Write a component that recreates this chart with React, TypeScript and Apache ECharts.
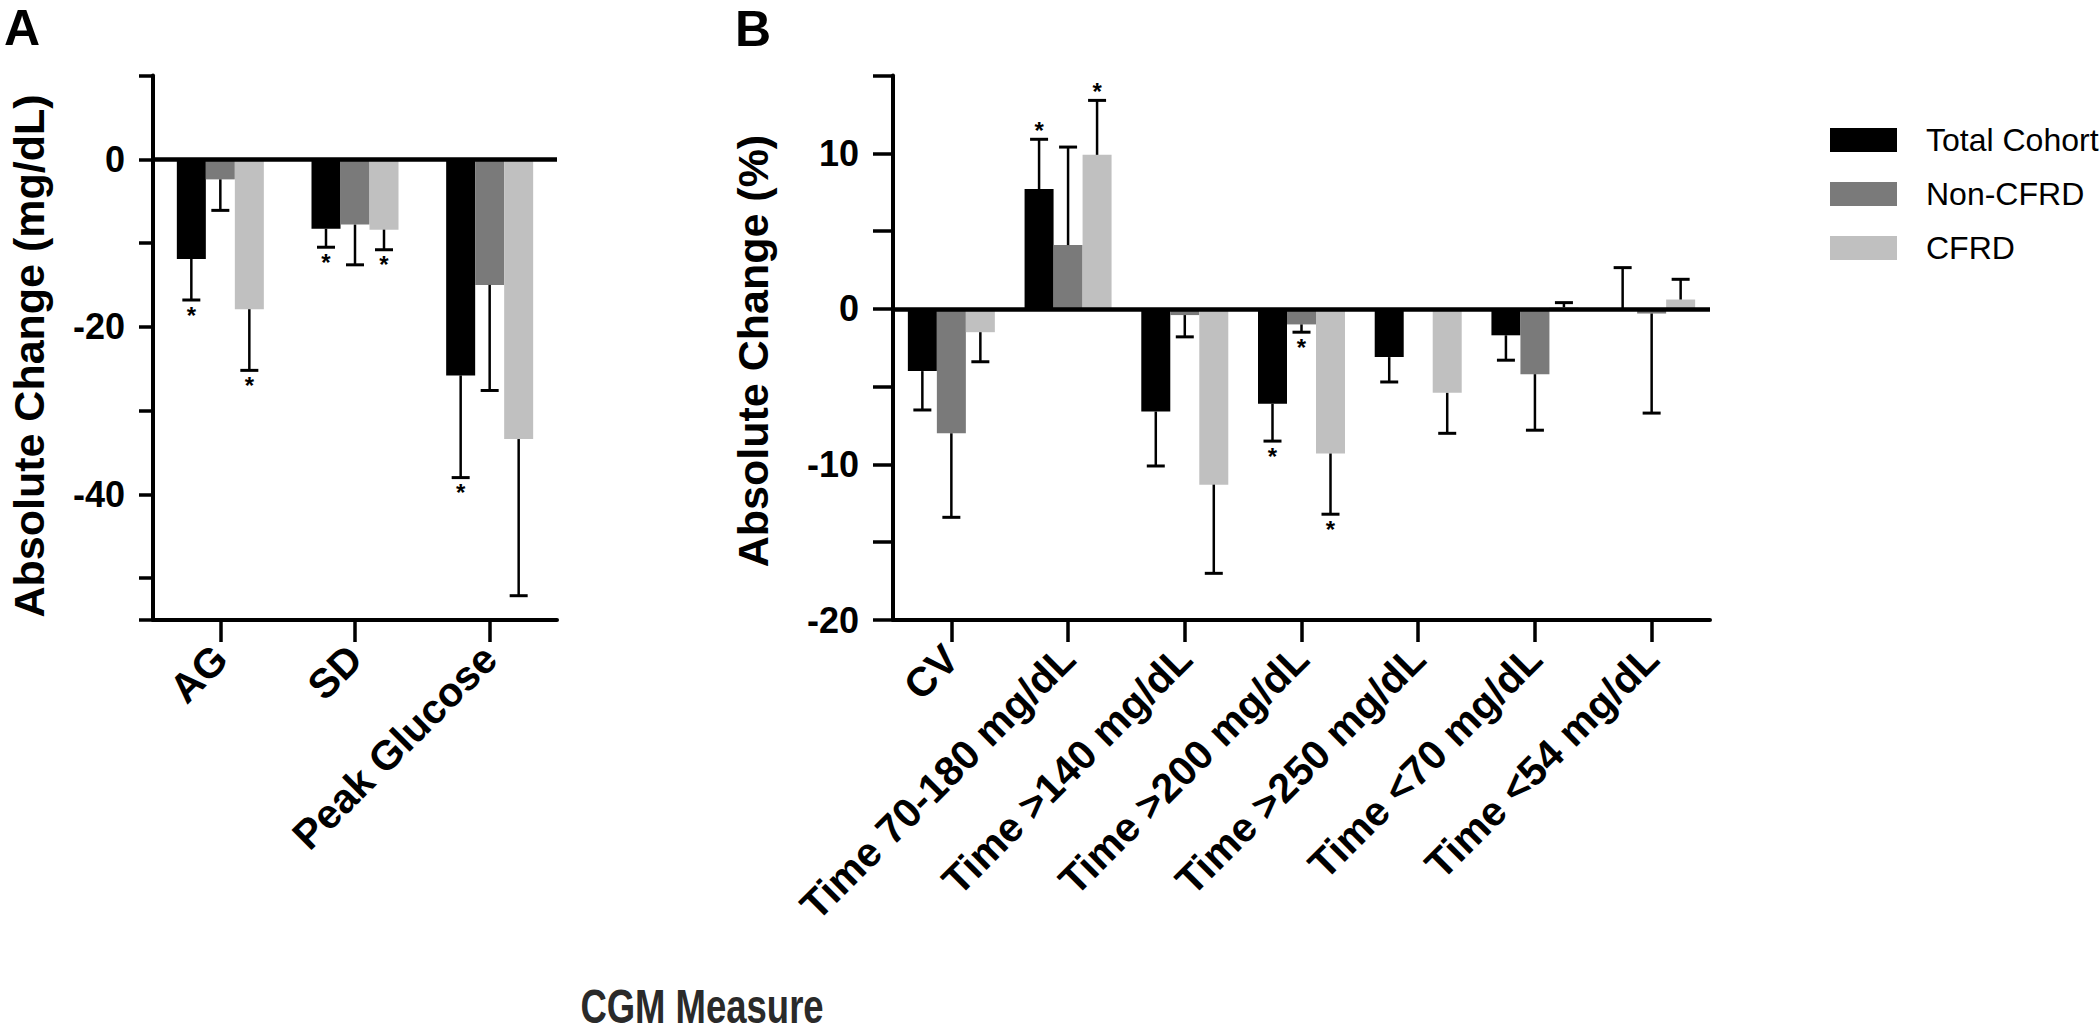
import React, { useEffect, useRef } from "react";
import * as echarts from "echarts";

const FONT = "'Liberation Sans', Arial, Helvetica, sans-serif";

const seriesNames = ["Total Cohort", "Non-CFRD", "CFRD"];
const seriesColors = ["#000000", "#7a7a7a", "#c0c0c0"];

// Panel A
const catsA = ["AG", "SD", "Peak Glucose"];
const totalA = [-11.9, -8.3, -25.8];
const totalAErr = [4.9, 2.2, 12.2];
const totalAStar = [1, 1, 1];
const nonA = [-2.4, -7.8, -15.0];
const nonAErr = [3.7, 4.8, 12.6];
const nonAStar = [0, 0, 0];
const cfrdA = [-17.9, -8.4, -33.4];
const cfrdAErr = [7.3, 2.4, 18.7];
const cfrdAStar = [1, 1, 0];

// Panel B
const catsB = [
  "CV",
  "Time 70-180 mg/dL",
  "Time >140 mg/dL",
  "Time >200 mg/dL",
  "Time >250 mg/dL",
  "Time <70 mg/dL",
  "Time <54 mg/dL",
];
const totalB = [-4.0, 7.7, -6.6, -6.1, -3.1, -1.7, 0.05];
const totalBErr = [2.5, 3.2, 3.5, 2.4, 1.6, 1.6, 2.6];
const totalBStar = [0, 1, 0, 1, 0, 0, 0];
const nonB = [-8.0, 4.1, -0.4, -1.0, -0.1, -4.2, -0.3];
const nonBErr = [5.4, 6.3, 1.4, 0.5, 0, 3.6, 6.4];
const nonBStar = [0, 0, 0, 1, 0, 0, 0];
const cfrdB = [-1.5, 9.9, -11.3, -9.3, -5.4, 0.1, 0.6];
const cfrdBErr = [1.9, 3.5, 5.7, 3.9, 2.6, 0.3, 1.3];
const cfrdBStar = [0, 1, 0, 1, 0, 0, 0];

const yTicksA = { min: -55, max: 10, step: 10, labelEvery: 20 };
const yTicksB = { min: -20, max: 15, step: 5, labelEvery: 10 };

const BW = 29;

function renderErr(params: any, api: any) {
  const ci = api.value(0);
  const mean = api.value(1);
  const err = api.value(2);
  const star = api.value(3);
  const s = api.value(4);
  const dir = mean < 0 ? -1 : 1;
  const p0 = api.coord([ci, mean]);
  const p1 = api.coord([ci, mean + dir * err]);
  const x = p0[0] + (s - 1) * BW;
  const children: any[] = [];
  if (err > 0) {
    children.push({
      type: "line",
      shape: { x1: x, y1: p0[1], x2: x, y2: p1[1] },
      style: { stroke: "#000", lineWidth: 2.5 },
    });
    children.push({
      type: "line",
      shape: { x1: x - 9, y1: p1[1], x2: x + 9, y2: p1[1] },
      style: { stroke: "#000", lineWidth: 3 },
    });
  }
  if (star) {
    children.push({
      type: "text",
      x: x,
      y: p1[1] + (dir < 0 ? 15 : -9),
      style: {
        text: "*",
        fontSize: 24,
        fontWeight: "bold",
        fontFamily: FONT,
        fill: "#000",
        align: "center",
        verticalAlign: "middle",
      },
    });
  }
  return { type: "group", children };
}

function buildErrData(means: number[][], errs: number[][], stars: number[][]) {
  const out: number[][] = [];
  for (let s = 0; s < means.length; s++) {
    for (let i = 0; i < means[s].length; i++) {
      out.push([i, means[s][i], errs[s][i], stars[s][i], s]);
    }
  }
  return out;
}

export default function App() {
  const ref = useRef<HTMLDivElement>(null);
  useEffect(() => {
    if (!ref.current) return;
    const chart = echarts.init(ref.current, undefined, { renderer: "svg" });

    const meansA = [totalA, nonA, cfrdA];
    const errsA = [totalAErr, nonAErr, cfrdAErr];
    const starsA = [totalAStar, nonAStar, cfrdAStar];
    const meansB = [totalB, nonB, cfrdB];
    const errsB = [totalBErr, nonBErr, cfrdBErr];
    const starsB = [totalBStar, nonBStar, cfrdBStar];

    const axisLine = { show: true, lineStyle: { color: "#000", width: 4 } };
    const xAxisCommon = (data: string[], idx: number) => ({
      type: "category",
      gridIndex: idx,
      data,
      axisLine: { ...axisLine, onZero: false },
      axisTick: { show: true, alignWithLabel: true, length: 22, lineStyle: { color: "#000", width: 3.5 } },
      axisLabel: {
        interval: 0,
        rotate: 45,
        fontSize: 41,
        fontWeight: "bold",
        fontFamily: FONT,
        color: "#000",
        margin: 32,
      },
      splitLine: { show: false },
    });
    const yAxisCommon = (cfg: any, idx: number, tickLen: number) => {
      const ax: any = {
        type: "value",
        gridIndex: idx,
        min: cfg.min,
        max: cfg.max,
        axisLine: axisLine,
        axisTick: { show: true, length: tickLen, lineStyle: { color: "#000", width: 3.5 } },
        axisLabel: {
          fontSize: 36,
          fontWeight: "bold",
          fontFamily: FONT,
          color: "#000",
          margin: tickLen + 14,
          showMinLabel: true,
          showMaxLabel: true,
          formatter: (v: number) => (Math.abs(v % cfg.labelEvery) < 1e-9 ? String(v) : ""),
        },
        splitLine: { show: false },
      };
      if (cfg.min % cfg.step === 0) {
        ax.interval = cfg.step;
      } else {
        ax.minInterval = cfg.step;
        ax.maxInterval = cfg.step;
        ax.splitNumber = 6;
      }
      return ax;
    };

    const series: any[] = [];
    [0, 1].forEach((p) => {
      const means = p === 0 ? meansA : meansB;
      means.forEach((m, s) => {
        series.push({
          type: "bar",
          name: seriesNames[s],
          xAxisIndex: p,
          yAxisIndex: p,
          data: m,
          barWidth: BW,
          barGap: "0%",
          itemStyle: { color: seriesColors[s] },
          z: 2,
          markLine:
            s === 0
              ? {
                  silent: true,
                  symbol: "none",
                  label: { show: false },
                  lineStyle: { color: "#000", width: 4.5, type: "solid" },
                  data: [{ yAxis: 0 }],
                }
              : undefined,
        });
      });
      series.push({
        type: "custom",
        xAxisIndex: p,
        yAxisIndex: p,
        renderItem: renderErr,
        data: p === 0 ? buildErrData(meansA, errsA, starsA) : buildErrData(meansB, errsB, starsB),
        z: 5,
        silent: true,
      });
    });

    const option: any = {
      animation: false,
      backgroundColor: "#ffffff",
      textStyle: { fontFamily: FONT },
      grid: [
        { left: 153, top: 75.5, width: 404, height: 544.5 },
        { left: 893, top: 75.5, width: 817, height: 544.5 },
      ],
      xAxis: [xAxisCommon(catsA, 0), xAxisCommon(catsB, 1)],
      yAxis: [yAxisCommon(yTicksA, 0, 14), yAxisCommon(yTicksB, 1, 20)],
      legend: {
        data: seriesNames,
        orient: "vertical",
        left: 1830,
        top: 124,
        padding: 0,
        itemWidth: 67,
        itemHeight: 24,
        itemGap: 22,
        icon: "rect",
        textStyle: {
          fontSize: 32,
          fontFamily: FONT,
          color: "#000",
          lineHeight: 24,
          padding: [0, 0, 0, 24],
        },
      },
      graphic: [
        {
          type: "text",
          x: 22,
          y: 28,
          style: { text: "A", fontSize: 50, fontWeight: "bold", fontFamily: FONT, fill: "#000", align: "center", verticalAlign: "middle" },
        },
        {
          type: "text",
          x: 753,
          y: 29,
          style: { text: "B", fontSize: 50, fontWeight: "bold", fontFamily: FONT, fill: "#000", align: "center", verticalAlign: "middle" },
        },
        {
          type: "text",
          x: 29,
          y: 356,
          rotation: Math.PI / 2,
          style: {
            text: "Absolute Change (mg/dL)",
            fontSize: 43,
            fontWeight: "bold",
            fontFamily: FONT,
            fill: "#000",
            align: "center",
            verticalAlign: "middle",
          },
        },
        {
          type: "text",
          x: 753,
          y: 351,
          rotation: Math.PI / 2,
          style: {
            text: "Absolute Change (%)",
            fontSize: 43,
            fontWeight: "bold",
            fontFamily: FONT,
            fill: "#000",
            align: "center",
            verticalAlign: "middle",
          },
        },
        {
          type: "text",
          x: 702,
          y: 1006,
          scaleX: 0.76,
          style: {
            text: "CGM Measure",
            fontSize: 48,
            fontWeight: "bold",
            fontFamily: FONT,
            fill: "#2a2a2a",
            align: "center",
            verticalAlign: "middle",
          },
        },
      ],
      series,
    };
    chart.setOption(option);
    return () => chart.dispose();
  }, []);
  return (
    <div
      ref={ref}
      style={{ position: "absolute", left: 0, top: 0, width: 2100, height: 1033, background: "#fff" }}
    />
  );
}
